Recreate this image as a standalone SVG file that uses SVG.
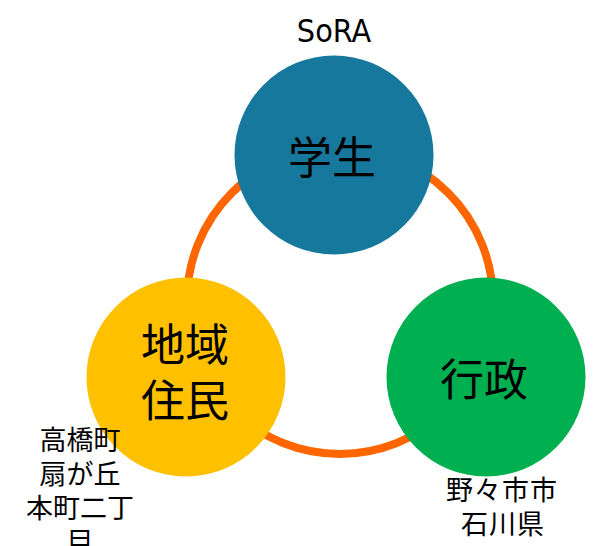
<svg xmlns="http://www.w3.org/2000/svg" width="601" height="546" viewBox="0 0 601 546">
  <style>
    .jp { font-family: "Noto Sans CJK JP", "Noto Sans", sans-serif; fill: #000; text-anchor: middle; }
    .big { font-size: 44px; }
    .small { font-size: 27px; }
    .title { font-family: "DejaVu Sans Condensed", "DejaVu Sans", sans-serif; font-stretch: condensed; font-size: 32px; fill: #000; text-anchor: middle; }
  </style>
  <rect width="601" height="546" fill="#ffffff"/>
  <g id="connectors">
    <circle cx="340" cy="301" r="153" fill="none" stroke="#FF6600" stroke-width="8"/>
  </g>
  <g id="title">
    <text class="title" x="334" y="42">SoRA</text>
  </g>
  <g id="node-student">
    <circle cx="334" cy="155" r="99.5" fill="#17789E"/>
    <text class="jp big" x="332" y="174">学生</text>
  </g>
  <g id="node-residents">
    <circle cx="186" cy="377" r="99.5" fill="#FFC000"/>
    <text class="jp big" x="185" y="361">地域</text>
    <text class="jp big" x="185" y="417">住民</text>
  </g>
  <g id="node-government">
    <circle cx="486" cy="377" r="99.5" fill="#00B050"/>
    <text class="jp big" x="484" y="396">行政</text>
  </g>
  <g id="label-address-left">
    <text class="jp small" x="80" y="450">高橋町</text>
    <text class="jp small" x="80" y="484">扇が丘</text>
    <text class="jp small" x="80" y="518">本町二丁</text>
    <text class="jp small" x="80" y="552">目</text>
  </g>
  <g id="label-address-right">
    <text class="jp small" x="502" y="500" letter-spacing="1">野々市市</text>
    <text class="jp small" x="503" y="534" letter-spacing="1">石川県</text>
  </g>
</svg>
